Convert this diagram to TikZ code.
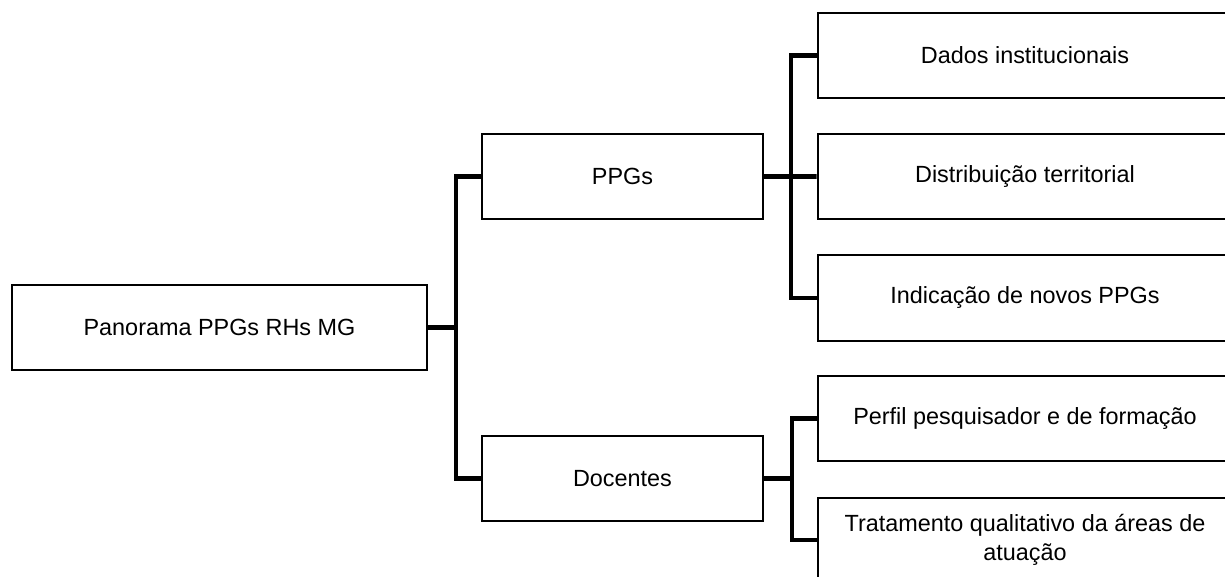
\documentclass[tikz,border=0pt]{standalone}
\usepackage{fontspec}
\setmainfont{Liberation Sans}
\usepackage{tikz}
\usetikzlibrary{positioning}

\begin{document}
\begin{tikzpicture}[x=0.5pt,y=-0.5pt]
    \tikzset{block/.style={draw, rectangle, align=center, line width=1pt, inner sep=0pt, font=\fontsize{11.7}{14.5}\selectfont},
    rblock/.style={block, minimum width=207.5pt, minimum height=42.5pt},
    mblock/.style={block, minimum width=140.5pt, minimum height=42.5pt},
    conn/.style={draw, line width=2.4pt},
    }
    \useasboundingbox (0,0) rectangle (1225,577);
    \clip (0,0) rectangle (1225,577);
    \node [block, minimum width=207.5pt, minimum height=42.5pt] (root) at (219.5,327.5) {Panorama PPGs RHs MG};
    \node [mblock] (ppgs) at (622.5,176.5) {PPGs};
    \node [mblock] (docentes) at (622.5,478.5) {Docentes};
    \node [rblock] (dados) at (1025,55.5) {Dados institucionais};
    \node [rblock] (territorio) at (1025,177) {Distribuição territorial};
    \node [rblock] (novos) at (1025,298) {Indicação de novos PPGs};
    \node [rblock] (perfil) at (1025,418.5) {Perfil pesquisador e de formação};
    \node [rblock] (tratamento) at (1025,540) {Tratamento qualitativo da áreas de\\atuação};
    %% junctions
    \coordinate (jroot) at (456,327.5);
    \coordinate (jppgs) at (791,176.5);
    \coordinate (jdoc) at (792,478.5);

% paths
    \draw[conn] (root) -- (jroot) |- (ppgs);
    \draw[conn] (jroot) |- (docentes);
    \draw[conn] (ppgs) -- (jppgs) |- (dados);
    \draw[conn] (jppgs) -- (territorio);
    \draw[conn] (jppgs) |- (novos);
    \draw[conn] (docentes) -- (jdoc) |- (perfil);
    \draw[conn] (jdoc) |- (tratamento);
\end{tikzpicture}
\end{document}
